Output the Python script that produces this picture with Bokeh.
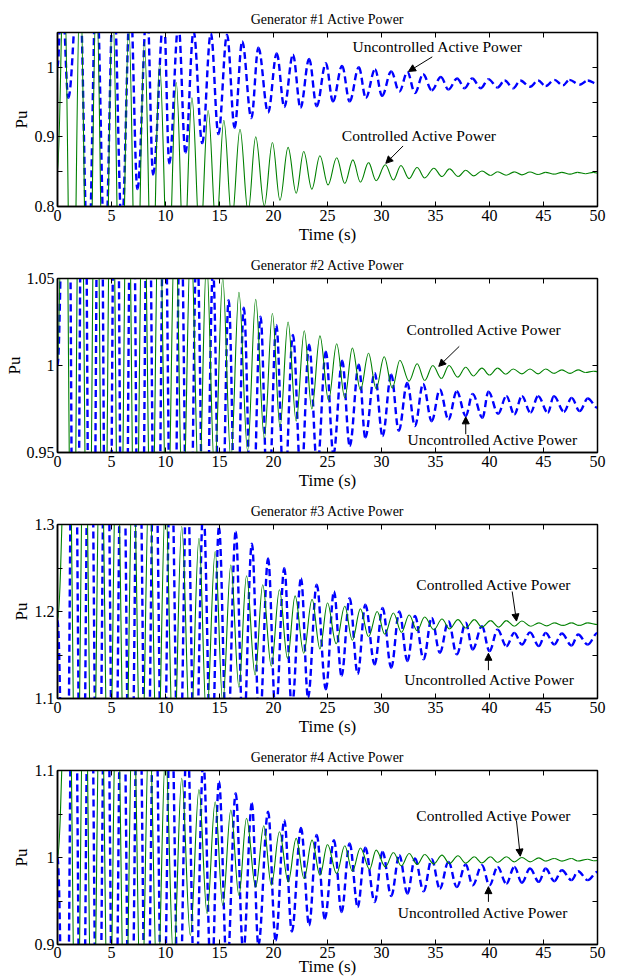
import numpy as np
from bokeh.plotting import figure
from bokeh.layouts import column
from bokeh.models import Range1d, FixedTicker, LinearAxis, Arrow, NormalHead, Label
from bokeh.embed import file_html
from bokeh.resources import INLINE

FONT = "Liberation Serif"

# ---------------- data (extrema) ----------------
x_ticks = [0, 5, 10, 15, 20, 25, 30, 35, 40, 45, 50]

# Generator 1
u1_ends = [1.0, 0.976]
u1_pk_t = [0.4, 2.0, 3.6, 5.2, 6.75, 8.3, 9.85, 11.2, 12.6, 14.2, 15.7, 17.1, 18.6, 20.3, 21.8, 23.3, 24.85,
           26.35, 27.9, 29.4, 30.9, 32.4, 33.85, 35.5, 37.0, 38.4, 39.9, 41.4, 42.85, 44.5, 46.0, 47.4, 49.1]
u1_pk_v = [1.12, 1.14, 1.13, 1.12, 1.10, 1.09, 1.075, 1.062, 1.052, 1.049, 1.047, 1.037, 1.028, 1.020, 1.018,
           1.012, 1.006, 1.002, 1.000, 0.997, 0.994, 0.993, 0.990, 0.986, 0.984, 0.984, 0.983, 0.981, 0.981,
           0.981, 0.982, 0.982, 0.981]
u1_tr_t = [1.0, 2.85, 4.4, 5.95, 7.4, 8.85, 10.35, 11.85, 13.4, 14.9, 16.4, 17.95, 19.5, 21.0, 22.5, 24.0,
           25.5, 27.05, 28.55, 30.05, 31.65, 33.1, 34.65, 36.2, 37.7, 39.2, 40.75, 42.2, 43.75, 45.2, 46.8, 48.35]
u1_tr_v = [0.956, 0.70, 0.72, 0.77, 0.825, 0.846, 0.862, 0.877, 0.891, 0.904, 0.913, 0.927, 0.935, 0.943,
           0.942, 0.944, 0.951, 0.951, 0.956, 0.959, 0.965, 0.963, 0.967, 0.968, 0.970, 0.970, 0.971, 0.970,
           0.972, 0.973, 0.974, 0.975]
c1_ends = [0.85, 0.848]
c1_pk_t = [0.6, 2.1, 3.6, 5.1, 6.6, 8.05, 9.45, 11.0, 12.45, 13.95, 15.4, 16.9, 18.35, 19.9, 21.35, 22.8,
           24.3, 25.85, 27.35, 28.8, 30.35, 31.8, 33.3, 34.85, 36.3, 37.8, 39.3, 40.75, 42.3, 43.75, 45.2,
           46.7, 48.15, 49.6]
c1_pk_v = [1.15, 1.13, 1.11, 1.09, 1.06, 1.036, 1.005, 0.978, 0.956, 0.938, 0.924, 0.911, 0.900, 0.892,
           0.885, 0.879, 0.873, 0.870, 0.867, 0.863, 0.860, 0.859, 0.856, 0.855, 0.854, 0.852, 0.851, 0.850,
           0.8498, 0.8495, 0.849, 0.849, 0.849, 0.849]
c1_tr_t = [1.35, 2.85, 4.35, 5.85, 7.3, 8.75, 10.25, 11.7, 13.2, 14.7, 16.15, 17.65, 19.15, 20.6, 22.1,
           23.55, 25.05, 26.6, 28.05, 29.5, 31.1, 32.55, 34.0, 35.6, 37.1, 38.55, 40.1, 41.55, 43.0, 44.5,
           46.0, 47.45, 48.9]
c1_tr_v = [0.50, 0.52, 0.55, 0.58, 0.62, 0.66, 0.69, 0.72, 0.745, 0.765, 0.78, 0.792, 0.801, 0.809, 0.819,
           0.825, 0.831, 0.833, 0.835, 0.837, 0.838, 0.840, 0.841, 0.843, 0.843, 0.844, 0.8445, 0.845, 0.8455,
           0.846, 0.8465, 0.8465, 0.847]

# Generator 2
u2_ends = [1.0, 0.9757]
u2_pk_t = [0.9, 2.4, 3.9, 5.4, 6.9, 8.4, 9.9, 11.4, 12.9, 14.4, 15.85, 17.25, 18.8, 20.26, 21.8, 23.3, 24.85,
           26.36, 27.9, 29.37, 30.9, 32.38, 33.85, 35.4, 36.97, 38.44, 39.9, 41.56, 43.0, 44.5, 45.96, 47.6, 49.1]
u2_pk_v = [1.25, 1.24, 1.22, 1.20, 1.18, 1.15, 1.12, 1.10, 1.075, 1.055, 1.0376, 1.0332, 1.028, 1.0233,
           1.0176, 1.0119, 1.008, 1.0028, 1.0005, 0.9957, 0.9948, 0.990, 0.9894, 0.9862, 0.9852, 0.9837,
           0.985, 0.9824, 0.9824, 0.9824, 0.9824, 0.9814, 0.981]
u2_tr_t = [1.65, 3.15, 4.65, 6.15, 7.65, 9.15, 10.65, 12.15, 13.65, 15.1, 16.55, 18.0, 19.5, 21.0, 22.55,
           24.05, 25.55, 27.06, 28.5, 30.1, 31.6, 33.1, 34.65, 36.2, 37.8, 39.35, 40.8, 42.3, 43.8, 45.4,
           46.9, 48.35]
u2_tr_v = [0.70, 0.71, 0.72, 0.74, 0.76, 0.78, 0.80, 0.82, 0.84, 0.86, 0.88, 0.895, 0.91, 0.922, 0.933,
           0.941, 0.949, 0.9538, 0.9586, 0.9595, 0.9624, 0.9652, 0.968, 0.969, 0.971, 0.970, 0.9723, 0.9719,
           0.9729, 0.9729, 0.9734, 0.9738]
c2_ends = [1.0, 0.9965]
c2_pk_t = [0.65, 2.1, 3.55, 5.0, 6.5, 7.95, 9.4, 10.9, 12.35, 13.8, 15.3, 16.8, 18.35, 19.9, 21.35, 22.85,
           24.3, 25.85, 27.3, 28.8, 30.25, 31.7, 33.3, 34.75, 36.25, 37.8, 39.3, 40.75, 42.2, 43.75, 45.2,
           46.7, 48.2, 49.6]
c2_pk_v = [1.20, 1.19, 1.18, 1.17, 1.15, 1.13, 1.11, 1.09, 1.075, 1.06, 1.05, 1.042, 1.038, 1.030, 1.025,
           1.020, 1.017, 1.0125, 1.010, 1.007, 1.005, 1.003, 1.001, 1.000, 1.000, 0.999, 0.9985, 0.9985,
           0.998, 0.998, 0.998, 0.9975, 0.9975, 0.9967]
c2_tr_t = [1.4, 2.85, 4.3, 5.75, 7.2, 8.7, 10.15, 11.6, 13.1, 14.55, 16.05, 17.6, 19.15, 20.6, 22.1, 23.55,
           25.1, 26.6, 28.05, 29.5, 31.0, 32.55, 34.0, 35.55, 37.05, 38.5, 40.0, 41.5, 43.0, 44.5, 45.95,
           47.45, 48.9]
c2_tr_v = [0.80, 0.81, 0.82, 0.83, 0.85, 0.87, 0.89, 0.91, 0.925, 0.938, 0.946, 0.951, 0.958, 0.9647,
           0.968, 0.975, 0.980, 0.9814, 0.986, 0.9867, 0.987, 0.991, 0.9914, 0.9925, 0.9933, 0.994, 0.9945,
           0.995, 0.9952, 0.9952, 0.9955, 0.9955, 0.996]

# Generator 3
u3_ends = [1.19, 1.1754]
u3_pk_t = [1.5, 3.0, 4.5, 6.0, 7.5, 9.0, 10.5, 12.0, 13.5, 14.95, 16.5, 18.0, 19.5, 21.0, 22.55, 24.0,
           25.6, 27.05, 28.5, 30.1, 31.65, 33.1, 34.65, 36.2, 37.8, 39.3, 40.75, 42.3, 43.75, 45.2, 46.7, 48.2]
u3_pk_v = [1.60, 1.57, 1.54, 1.51, 1.48, 1.45, 1.40, 1.36, 1.32, 1.297, 1.2916, 1.278, 1.261, 1.2497,
           1.238, 1.2307, 1.223, 1.2154, 1.2078, 1.204, 1.2, 1.195, 1.1926, 1.1888, 1.187, 1.183, 1.1792,
           1.1754, 1.176, 1.1754, 1.1747, 1.1735]
u3_tr_t = [0.75, 2.25, 3.75, 5.25, 6.75, 8.25, 9.75, 11.25, 12.75, 14.25, 15.7, 17.2, 18.7, 20.2, 21.7,
           23.2, 24.85, 26.3, 27.8, 29.37, 30.9, 32.4, 33.9, 35.4, 36.97, 38.44, 40.0, 41.56, 43.0, 44.57,
           46.0, 47.6, 49.1]
u3_tr_v = [0.80, 0.82, 0.84, 0.86, 0.88, 0.90, 0.93, 0.96, 0.99, 1.01, 1.03, 1.05, 1.065, 1.08, 1.09,
           1.1011, 1.1107, 1.126, 1.128, 1.1392, 1.1354, 1.143, 1.145, 1.1526, 1.1507, 1.1564, 1.1545,
           1.1602, 1.162, 1.1602, 1.162, 1.161, 1.162]
c3_ends = [1.19, 1.185]
c3_pk_t = [1.0, 2.5, 4.0, 5.5, 7.0, 8.5, 10.0, 11.5, 13.1, 14.6, 16.05, 17.5, 19.0, 20.55, 22.0, 23.57,
           25.0, 26.6, 28.05, 29.6, 31.1, 32.56, 34.0, 35.6, 37.08, 38.6, 40.1, 41.56, 43.0, 44.57, 46.0,
           47.6, 49.1]
c3_pk_v = [1.50, 1.48, 1.45, 1.42, 1.39, 1.36, 1.33, 1.298, 1.284, 1.269, 1.2535, 1.241, 1.2307, 1.225,
           1.218, 1.214, 1.2097, 1.206, 1.203, 1.200, 1.1983, 1.196, 1.1937, 1.1914, 1.1907, 1.1907, 1.1895,
           1.1895, 1.189, 1.1869, 1.1869, 1.1869, 1.1869]
c3_tr_t = [1.75, 3.25, 4.75, 6.25, 7.75, 9.25, 10.75, 12.3, 13.8, 15.3, 16.8, 18.3, 19.8, 21.3, 22.8, 24.3,
           25.8, 27.3, 28.8, 30.3, 31.85, 33.3, 34.85, 36.3, 37.8, 39.3, 40.85, 42.3, 43.8, 45.3, 46.8, 48.3]
c3_tr_v = [0.90, 0.92, 0.94, 0.96, 0.98, 1.00, 1.02, 1.05, 1.075, 1.095, 1.113, 1.127, 1.137, 1.146,
           1.152, 1.157, 1.163, 1.167, 1.171, 1.174, 1.176, 1.178, 1.179, 1.180, 1.181, 1.182, 1.182, 1.183,
           1.183, 1.1835, 1.184, 1.184]

# Generator 4
u4_ends = [1.0, 0.9835]
u4_pk_t = [1.5, 3.0, 4.5, 6.0, 7.5, 9.0, 10.5, 12.0, 13.5, 14.95, 16.5, 18.0, 19.5, 21.0, 22.55, 24.0,
           25.6, 27.05, 28.5, 30.1, 31.65, 33.1, 34.65, 36.2, 37.8, 39.3, 40.75, 42.3, 43.75, 45.2, 46.7, 48.2]
u4_pk_v = [1.40, 1.37, 1.34, 1.31, 1.28, 1.24, 1.20, 1.15, 1.11, 1.0873, 1.0738, 1.0623, 1.0527, 1.043,
           1.034, 1.0258, 1.02, 1.0162, 1.0112, 1.0065, 1.0027, 0.9988, 0.998, 0.995, 0.992, 0.9912, 0.9892,
           0.9892, 0.9873, 0.9873, 0.9854, 0.9842]
u4_tr_t = [0.75, 2.25, 3.75, 5.25, 6.75, 8.25, 9.75, 11.25, 12.75, 14.25, 15.7, 17.2, 18.6, 20.2, 21.7,
           23.3, 24.75, 26.3, 27.8, 29.37, 30.9, 32.4, 33.9, 35.4, 36.97, 38.44, 40.0, 41.56, 43.0, 44.57,
           46.0, 47.6, 49.1]
u4_tr_v = [0.60, 0.62, 0.64, 0.66, 0.69, 0.72, 0.75, 0.79, 0.82, 0.85, 0.87, 0.89, 0.899, 0.9046, 0.915,
           0.922, 0.9296, 0.9373, 0.943, 0.9488, 0.9558, 0.9585, 0.9612, 0.9642, 0.966, 0.968, 0.968, 0.970,
           0.971, 0.972, 0.9727, 0.974, 0.974]
c4_ends = [1.0, 0.9965]
c4_pk_t = [1.0, 2.5, 4.0, 5.5, 7.0, 8.5, 10.0, 11.5, 13.1, 14.6, 16.05, 17.5, 19.1, 20.55, 22.1, 23.57,
           25.0, 26.6, 28.05, 29.5, 31.1, 32.56, 34.0, 35.6, 37.08, 38.6, 40.1, 41.56, 43.0, 44.57, 46.0,
           47.6, 49.1]
c4_pk_v = [1.30, 1.28, 1.26, 1.23, 1.20, 1.16, 1.12, 1.091, 1.078, 1.064, 1.0546, 1.045, 1.0365, 1.0296,
           1.022, 1.020, 1.015, 1.0135, 1.011, 1.0085, 1.0058, 1.0046, 1.0035, 1.0027, 1.002, 1.0008, 1.0008,
           1.0008, 1.000, 0.9996, 0.9988, 0.9988, 0.998]
c4_tr_t = [1.75, 3.25, 4.75, 6.25, 7.75, 9.25, 10.75, 12.3, 13.85, 15.3, 16.8, 18.35, 19.8, 21.36, 22.83,
           24.3, 25.85, 27.3, 28.9, 30.36, 31.83, 33.3, 34.84, 36.3, 37.8, 39.28, 40.75, 42.3, 43.76, 45.2,
           46.7, 48.16, 49.63]
c4_tr_v = [0.70, 0.72, 0.74, 0.77, 0.80, 0.84, 0.88, 0.9104, 0.9354, 0.945, 0.9565, 0.966, 0.968, 0.972,
           0.9758, 0.9796, 0.9815, 0.9842, 0.9865, 0.9892, 0.9904, 0.992, 0.9927, 0.993, 0.9935, 0.9938,
           0.9942, 0.995, 0.995, 0.9958, 0.9958, 0.996, 0.9962]

titles = ["Generator #1 Active Power", "Generator #2 Active Power",
          "Generator #3 Active Power", "Generator #4 Active Power"]
y_ranges = [(0.8, 1.05), (0.95, 1.05), (1.1, 1.3), (0.9, 1.1)]
y_ticks = [[0.8, 0.85, 0.9, 0.95, 1.0, 1.05], [0.95, 1.0, 1.05],
           [1.1, 1.15, 1.2, 1.25, 1.3], [0.9, 0.95, 1.0, 1.05, 1.1]]
y_tick_labels = [["0.8", "", "0.9", "", "1", ""], ["0.95", "1", "1.05"],
                 ["1.1", "", "1.2", "", "1.3"], ["0.9", "", "1", "", "1.1"]]
curve_names = ["Uncontrolled Active Power", "Controlled Active Power"]


def build(ends, pk_t, pk_v, tr_t, tr_v):
    t = np.array([0.0] + pk_t + tr_t + [50.0])
    v = np.array([ends[0]] + pk_v + tr_v + [ends[1]])
    o = np.argsort(t, kind="stable")
    return t[o], v[o]


series = [
    (build(u1_ends, u1_pk_t, u1_pk_v, u1_tr_t, u1_tr_v), build(c1_ends, c1_pk_t, c1_pk_v, c1_tr_t, c1_tr_v)),
    (build(u2_ends, u2_pk_t, u2_pk_v, u2_tr_t, u2_tr_v), build(c2_ends, c2_pk_t, c2_pk_v, c2_tr_t, c2_tr_v)),
    (build(u3_ends, u3_pk_t, u3_pk_v, u3_tr_t, u3_tr_v), build(c3_ends, c3_pk_t, c3_pk_v, c3_tr_t, c3_tr_v)),
    (build(u4_ends, u4_pk_t, u4_pk_v, u4_tr_t, u4_tr_v), build(c4_ends, c4_pk_t, c4_pk_v, c4_tr_t, c4_tr_v)),
]

# annotation: (text index, text x, text y, arrow x0, y0, x1, y1)
notes = [
    [(0, 35.2, 1.030, 34.7, 1.015, 32.5, 0.994), (1, 33.5, 0.902, 32.0, 0.887, 30.4, 0.862)],
    [(1, 39.5, 1.0205, 37.2, 1.011, 35.3, 0.9995), (0, 40.3, 0.9574, 37.8, 0.9605, 37.8, 0.9705)],
    [(1, 40.4, 1.2314, 42.1, 1.223, 42.5, 1.189), (0, 40.0, 1.1217, 39.9, 1.1325, 39.9, 1.152)],
    [(1, 40.4, 1.0486, 42.5, 1.042, 42.85, 1.0015), (0, 39.4, 0.9366, 39.9, 0.949, 39.9, 0.9665)],
]

heights = [246, 246, 246, 241]
bottoms = [40, 40, 40, 35]
pu_standoff = [1, 0, 1, 1]
A = 1.0 - 2.0 / np.pi  # bezier handle fraction for smooth half-waves


def smooth_curve(p, t, v, **kw):
    t0, t1, v0, v1 = t[:-1], t[1:], v[:-1], v[1:]
    dt = t1 - t0
    p.bezier(x0=t0, y0=v0, x1=t1, y1=v1, cx0=t0 + A * dt, cy0=v0, cx1=t1 - A * dt, cy1=v1, **kw)


figs = []
for i in range(4):
    p = figure(width=620, height=heights[i], x_range=Range1d(0, 50), y_range=Range1d(*y_ranges[i]),
               output_backend="svg", toolbar_location=None,
               min_border_left=57, min_border_right=23, min_border_top=32, min_border_bottom=bottoms[i])
    p.background_fill_color = "white"
    p.border_fill_color = "white"
    p.outline_line_color = "black"
    p.outline_line_width = 1.5
    p.grid.visible = False

    p.title.text = titles[i]
    p.title.align = "center"
    p.title.text_font = FONT
    p.title.text_font_size = "14px"
    p.title.text_font_style = "normal"
    p.title.text_color = "black"
    p.title.standoff = 11

    xt = FixedTicker(ticks=x_ticks)
    yt = FixedTicker(ticks=y_ticks[i])
    p.xaxis.ticker = xt
    p.yaxis.ticker = yt
    p.yaxis.major_label_overrides = {tk: lb for tk, lb in zip(y_ticks[i], y_tick_labels[i])}
    p.xaxis.axis_label = "Time (s)"
    p.yaxis.axis_label = "Pu"
    for ax in (p.xaxis[0], p.yaxis[0]):
        ax.major_tick_in = 5
        ax.major_tick_out = 0
        ax.minor_tick_line_color = None
        ax.axis_line_color = "black"
        ax.axis_line_width = 1.5
        ax.major_tick_line_color = "black"
        ax.major_label_text_font = FONT
        ax.major_label_text_font_size = "16px"
        ax.major_label_text_color = "black"
        ax.axis_label_text_font = FONT
        ax.axis_label_text_font_size = "17px"
        ax.axis_label_text_font_style = "normal"
        ax.axis_label_text_color = "black"
    p.xaxis.major_label_standoff = 3 if i < 3 else 2
    p.xaxis.axis_label_standoff = 1 if i < 3 else -4
    p.yaxis.major_label_standoff = 3
    p.yaxis.axis_label_standoff = pu_standoff[i]

    for loc, tk in (("right", yt), ("above", xt)):
        ax = LinearAxis(ticker=tk, major_tick_in=5, major_tick_out=0, minor_tick_line_color=None,
                        axis_line_color="black", major_label_text_color=None,
                        major_label_text_font_size="1px", major_label_standoff=0)
        p.add_layout(ax, loc)

    (ut, uv), (ct, cv) = series[i]
    smooth_curve(p, ut, uv, line_color="#0000ff", line_width=2.4, line_dash="7 4")
    smooth_curve(p, ct, cv, line_color="#008000", line_width=1.1)

    for k, tx, ty, ax0, ay0, ax1, ay1 in notes[i]:
        p.add_layout(Label(x=tx, y=ty, text=curve_names[k], text_align="center", text_baseline="middle",
                           text_font=FONT, text_font_size="15.5px", text_color="black"))
        p.add_layout(Arrow(x_start=ax0, y_start=ay0, x_end=ax1, y_end=ay1, line_color="black", line_width=1,
                           end=NormalHead(size=7, fill_color="black", line_color="black")))
    figs.append(p)

layout = column(*figs, spacing=0)
open("out.html", "w").write(file_html(layout, INLINE))
